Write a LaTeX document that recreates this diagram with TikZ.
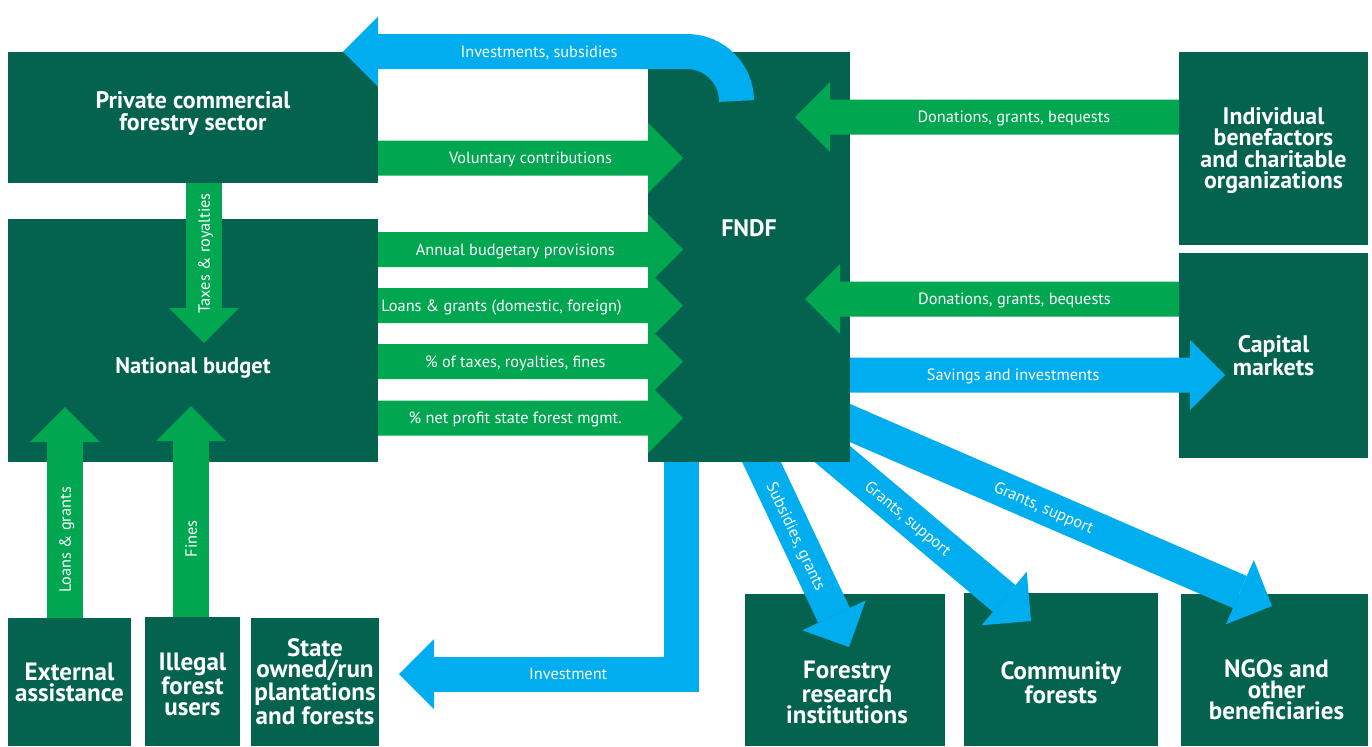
\documentclass[tikz,border=0pt]{standalone}
\usepackage{fontspec}
\setmainfont{PT Sans}
\usetikzlibrary{arrows.meta,fit}

\definecolor{fndfdark}{RGB}{3,99,79}
\definecolor{flowgreen}{RGB}{0,167,80}
\definecolor{flowblue}{RGB}{0,174,239}

\tikzset{
	box/.style={fill=fndfdark, inner sep=0pt, outer sep=0pt},
	boxtext/.style={text=white, align=center, inner sep=0pt, font=\fontsize{17}{15.2}\selectfont\bfseries},
	bigboxtext/.style={boxtext, font=\fontsize{17.8}{15}\selectfont\bfseries},
	flow/.style={line width=0.875cm, -{Triangle[length=0.875cm, width=1.75cm, line width=0pt]}},
	greenflow/.style={flow, draw=flowgreen},
	blueflow/.style={flow, draw=flowblue},
	lbl/.style={text=white, inner sep=0pt, text height=2ex, text depth=0.3ex, font=\fontsize{11.6}{13}\selectfont},
}

\begin{document}
\begin{tikzpicture}[x=0.025cm, y=-0.025cm]
			%%%%% START %%%%%
			\useasboundingbox (0,0) rectangle (1372,746);
			
			% the fund is only placed here, it is filled further down
			\path node[inner sep=0pt, outer sep=0pt, fit={(648,52) (850,462)}] (fndf) {};
			
			% receivers below the fund
			\node[box, fit={(745,594) (945,746)}] (research) {};
			\node[box, fit={(964,593) (1158,746)}] (community) {};
			\node[box, fit={(1181,594) (1368,746)}] (ngo) {};
			
			% grants leave from under the fund box
			\draw[blueflow] ([shift={(87.4,-55.2)}]fndf.south west) -- node[lbl, sloped, pos=0.54] {Subsidies, grants} ([shift={(104,53)}]research.north west);
			\draw[blueflow] ([shift={(132.7,-51.4)}]fndf.south west) -- node[lbl, sloped, pos=0.51] {Grants, support} ([shift={(67,28)}]community.north west);
			\draw[blueflow] ([shift={(128.6,-70.8)}]fndf.south west) -- node[lbl, sloped, pos=0.54] {Grants, support} ([shift={(91,12)}]ngo.north west);
			
			% the other boxes
			\node[box, fit=(fndf)] (fndfFill) {};
			\node[box, fit={(8,52) (378,183)}] (private) {};
			\node[box, fit={(8,219) (378,462)}] (national) {};
			\node[box, fit={(8,618) (131,746)}] (external) {};
			\node[box, fit={(145,617) (240,746)}] (illegal) {};
			\node[box, fit={(251,618) (379,746)}] (state) {};
			\node[box, fit={(1179,52) (1368,245)}] (benefactors) {};
			\node[box, fit={(1179,253) (1368,458)}] (capital) {};
			
			% flows into the national budget
			\draw[greenflow] ([shift={(196,0)}]private.south west) -- node[lbl, rotate=90, pos=0.44] {Taxes \& royalties} ([shift={(196,124)}]national.north west);
			\draw[greenflow] ([shift={(57,0)}]external.north west) -- node[lbl, rotate=90, pos=0.37] {Loans \& grants} ([shift={(57,-55)}]national.south west);
			\draw[greenflow] ([shift={(46,0)}]illegal.north west) -- node[lbl, rotate=90, pos=0.37] {Fines} ([shift={(183,-56)}]national.south west);
			
			% flows into the fund
			\draw[greenflow] ([shift={(0,106)}]private.north east) -- node[lbl, pos=0.5] {Voluntary contributions} ([shift={(35,106)}]fndf.north west);
			\draw[greenflow] ([shift={(0,30.5)}]national.north east) -- node[lbl, pos=0.45] {Annual budgetary provisions} ([shift={(35,197.5)}]fndf.north west);
			\draw[greenflow] ([shift={(0,86.5)}]national.north east) -- node[lbl, pos=0.405] {Loans \& grants (domestic, foreign)} ([shift={(35,253.5)}]fndf.north west);
			\draw[greenflow] ([shift={(0,142.5)}]national.north east) -- node[lbl, pos=0.45] {\% of taxes, royalties, fines} ([shift={(35,309.5)}]fndf.north west);
			\draw[greenflow] ([shift={(0,199)}]national.north east) -- node[lbl, pos=0.45] {\% net profit state forest mgmt.} ([shift={(35,366)}]fndf.north west);
			\draw[greenflow] ([shift={(0,65)}]benefactors.north west) -- node[lbl, pos=0.43] {Donations, grants, bequests} ([shift={(-55,65)}]fndf.north east);
			\draw[greenflow] ([shift={(0,46)}]capital.north west) -- node[lbl, pos=0.44] {Donations, grants, bequests} ([shift={(-45,247)}]fndf.north east);
			
			% flows out of the fund
			\draw[blueflow] ([shift={(88.5,49)}]fndf.north west) arc[start angle=0, end angle=-90, radius=49.5] -- node[lbl, pos=0.43] {Investments, subsidies} ([shift={(-35,-0.5)}]private.north east);
			\draw[blueflow] ([shift={(0,323)}]fndf.north east) -- node[lbl, pos=0.435] {Savings and investments} ([shift={(46,122)}]capital.north west);
			\draw[blueflow] ([shift={(33,0)}]fndf.south west) |- node[lbl, pos=0.7] {Investment} ([shift={(20,56)}]state.north east);
			
			% box texts
			\node[boxtext, font=\fontsize{17}{15.6}\selectfont\bfseries] (privateLbl) at ([shift={(0,-4.5)}]private.center) {Private commercial\\forestry sector};
			\node[boxtext, font=\fontsize{16}{15.5}\selectfont\bfseries] (nationalLbl) at ([shift={(0,27.5)}]national.center) {National budget};
			\node[boxtext] (fndfLbl) at ([shift={(0,-29)}]fndf.center) {FNDF};
			\node[boxtext] (benefactorsLbl) at ([shift={(0,2)}]benefactors.center) {Individual\\benefactors\\and charitable\\organizations};
			\node[boxtext] (capitalLbl) at (capital.center) {Capital\\markets};
			\node[bigboxtext] (externalLbl) at (external.center) {External\\assistance};
			\node[bigboxtext] (illegalLbl) at ([shift={(0,3)}]illegal.center) {Illegal\\forest\\users};
			\node[bigboxtext] (stateLbl) at (state.center) {State\\owned/run\\plantations\\and forests};
			\node[bigboxtext] (researchLbl) at ([shift={(2,22)}]research.center) {Forestry\\research\\institutions};
			\node[bigboxtext] (communityLbl) at ([shift={(0,13)}]community.center) {Community\\forests};
			\node[bigboxtext] (ngoLbl) at ([shift={(2,20)}]ngo.center) {NGOs and\\other\\beneficiaries};
			
			%%%%% END %%%%%
\end{tikzpicture}
\end{document}
